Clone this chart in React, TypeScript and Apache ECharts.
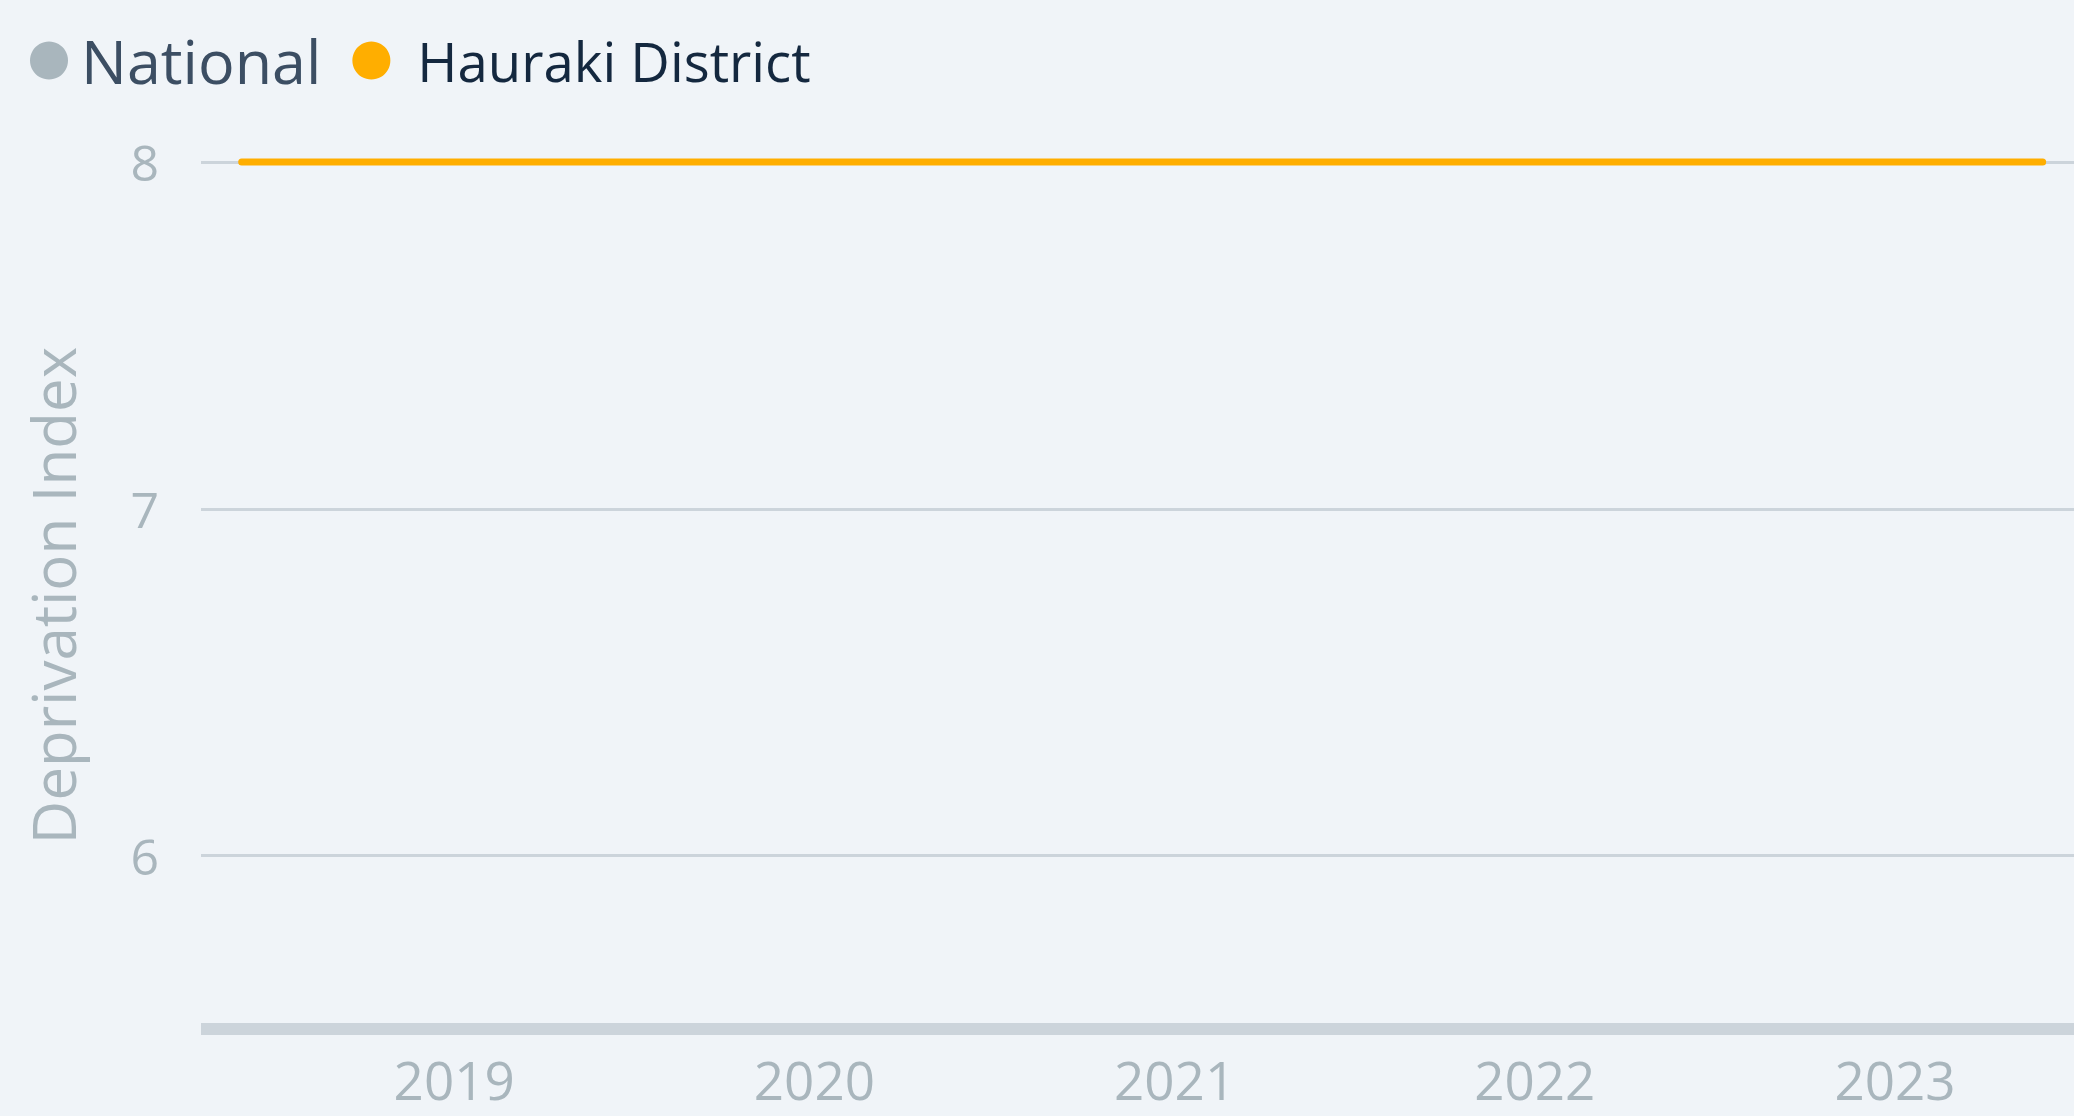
import React, { useEffect, useRef } from "react";
import * as echarts from "echarts";

const seriesNames = ["National", "Hauraki District"];
const yearTicks = [2019, 2020, 2021, 2022, 2023];
const yTicks = [6, 7, 8];
// x positions are fractional years
const nationalX: number[] = [];
const nationalY: number[] = [];
const haurakiX = [2018.41, 2019.41, 2020.41, 2021.41, 2022.41, 2023.41];
const haurakiY = [8, 8, 8, 8, 8, 8];

export default function App() {
  const ref = useRef<HTMLDivElement>(null);
  useEffect(() => {
    document.body.style.margin = "0";
    const chart = echarts.init(ref.current!, undefined, { renderer: "svg" });
    const font = "Open Sans";
    chart.setOption({
      animation: false,
      backgroundColor: "#f0f4f8",
      legend: {
        left: 30,
        top: 30,
        padding: 0,
        icon: "circle",
        itemWidth: 38,
        itemHeight: 38,
        itemGap: 31,
        data: [
          { name: seriesNames[0], textStyle: { fontSize: 61, color: "#3c4e63", fontFamily: font, padding: [0, 0, 0, 8] } },
          { name: seriesNames[1], textStyle: { fontSize: 54.5, color: "#14283f", fontFamily: font, padding: [0, 0, 0, 22] } },
        ],
      },
      grid: { left: 201, top: 162, right: 0, bottom: 87, containLabel: false },
      xAxis: {
        type: "value",
        min: 2018.297,
        max: 2023.497,
        splitLine: { show: false },
        axisTick: { show: false },
        axisLine: { show: true, lineStyle: { color: "#ccd4db", width: 12, cap: "butt" } },
        axisLabel: {
          customValues: yearTicks,
          formatter: (v: number) => String(v),
          fontSize: 53,
          lineHeight: 44,
          color: "#a9b6bd",
          fontFamily: font,
          margin: 28,
        },
      },
      yAxis: {
        type: "value",
        min: 5.5,
        max: 8,
        name: "Deprivation Index",
        nameLocation: "middle",
        nameGap: 118,
        nameTextStyle: { fontSize: 60, color: "#a9b6bd", fontFamily: font },
        axisLine: { show: false },
        axisTick: { show: false, customValues: yTicks },
        axisLabel: {
          customValues: yTicks,
          fontSize: 50,
          color: "#a9b6bd",
          fontFamily: font,
          margin: 42,
        },
        splitLine: { show: true, lineStyle: { color: "#ccd4db", width: 3 } },
      },
      series: [
        {
          name: seriesNames[0],
          type: "line",
          color: "#a9b6bd",
          showSymbol: false,
          data: nationalX.map((x, i) => [x, nationalY[i]]),
          lineStyle: { width: 7, cap: "round" },
        },
        {
          name: seriesNames[1],
          type: "line",
          color: "#ffae00",
          showSymbol: false,
          clip: false,
          z: 5,
          data: haurakiX.map((x, i) => [x, haurakiY[i]]),
          lineStyle: { width: 7, cap: "round", color: "#ffae00" },
        },
      ],
    });
    return () => chart.dispose();
  }, []);
  return <div ref={ref} style={{ width: 2074, height: 1116 }} />;
}
